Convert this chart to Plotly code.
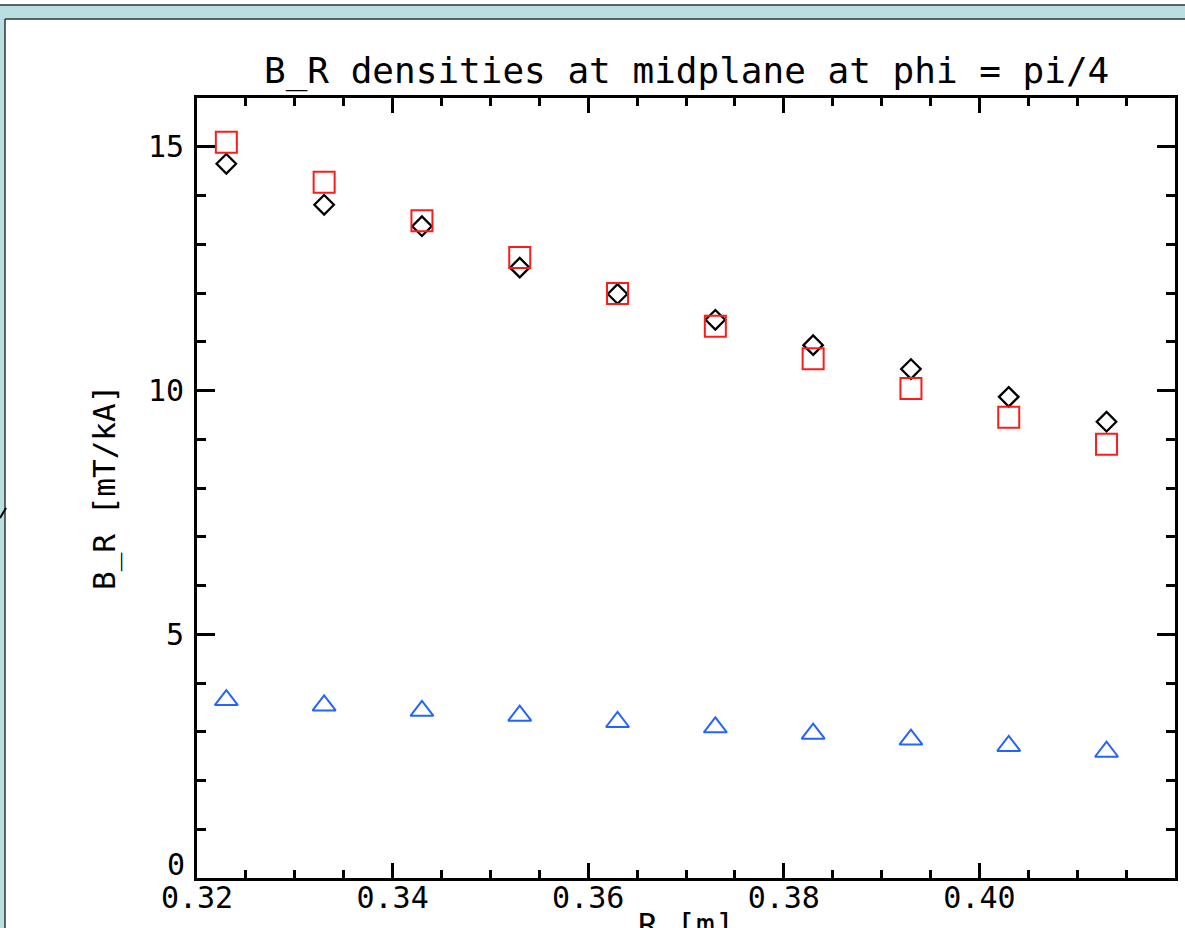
import plotly.graph_objects as go

# ---- data ----
R_m = [0.323, 0.333, 0.343, 0.353, 0.363, 0.373, 0.383, 0.393, 0.403, 0.413]
br_black = [14.65, 13.81, 13.37, 12.52, 11.98, 11.45, 10.93, 10.44, 9.87, 9.36]
br_red = [15.09, 14.27, 13.48, 12.73, 11.99, 11.32, 10.65, 10.04, 9.45, 8.90]
br_blue = [3.65, 3.54, 3.43, 3.33, 3.20, 3.09, 2.96, 2.84, 2.71, 2.59]

x_tickvals = [0.32, 0.34, 0.36, 0.38, 0.40]
x_ticktext = ["0.32", "0.34", "0.36", "0.38", "0.40"]
y_tickvals = [0, 5, 10, 15]
y_ticktext = ["", "5", "10", "15"]   # "0" is drawn raised, as in the original
y_zero_label = "0"

title_text = "B_R densities at midplane at phi = pi/4"
xtitle_text = "R [m]"
ytitle_text = "B_R [mT/kA]"

# ---- layout geometry (pixels) ----
WIDTH, HEIGHT = 1185, 928
L, R, T, B = 197, 1175, 98, 878
PW, PH = R - L, B - T


def px(x):
    return (x - L) / PW


def py(y):
    return (B - y) / PH


FONT = "DejaVu Sans Mono"
TEAL = "#b9dfe1"
DARK = "#333333"

fig = go.Figure()
fig.add_trace(go.Scatter(
    x=R_m, y=br_black, mode="markers", name="black",
    marker=dict(symbol="diamond-open", size=15, color="black",
                line=dict(color="black", width=2.3)),
    showlegend=False))
fig.add_trace(go.Scatter(
    x=R_m, y=br_red, mode="markers", name="red",
    marker=dict(symbol="square-open", size=21, color="#ff1a1a",
                line=dict(color="#ff1a1a", width=2)),
    showlegend=False))
fig.add_trace(go.Scatter(
    x=R_m, y=br_blue, mode="markers", name="blue",
    marker=dict(symbol="triangle-up-open", size=20, color="#2563ff",
                line=dict(color="#2563ff", width=2)),
    showlegend=False))

axis_common = dict(
    showline=True, linecolor="black", linewidth=3, mirror="ticks",
    ticks="inside", tickcolor="black", tickwidth=3,
    showgrid=False, zeroline=False,
    tickfont=dict(family=FONT, size=30, color="black"),
)

fig.update_xaxes(
    range=[0.32, 0.42], tickmode="array", tickvals=x_tickvals, ticktext=x_ticktext,
    ticklen=15, ticklabelstandoff=-9,
    minor=dict(ticks="inside", dtick=0.005, tick0=0.32, ticklen=8, tickwidth=3,
               tickcolor="black", showgrid=False),
    **axis_common)
fig.update_yaxes(
    range=[0, 16], tickmode="array", tickvals=y_tickvals, ticktext=y_ticktext,
    ticklen=18, ticklabelstandoff=4,
    minor=dict(ticks="inside", dtick=1, tick0=0, ticklen=9, tickwidth=3,
               tickcolor="black", showgrid=False),
    **axis_common)

shapes = [
    # top teal band
    dict(type="rect", xref="paper", yref="paper", x0=px(0), x1=px(WIDTH + 5),
         y0=py(19), y1=py(5), fillcolor=TEAL, line=dict(width=0), layer="below"),
    # left teal band
    dict(type="rect", xref="paper", yref="paper", x0=px(-5), x1=px(5),
         y0=py(HEIGHT + 5), y1=py(19), fillcolor=TEAL, line=dict(width=0), layer="below"),
    dict(type="line", xref="paper", yref="paper", x0=px(0), x1=px(WIDTH + 5),
         y0=py(5), y1=py(5), line=dict(color=DARK, width=1.5)),
    dict(type="line", xref="paper", yref="paper", x0=px(5), x1=px(WIDTH + 5),
         y0=py(19), y1=py(19), line=dict(color=DARK, width=1.5)),
    dict(type="line", xref="paper", yref="paper", x0=px(5), x1=px(5),
         y0=py(19), y1=py(HEIGHT + 5), line=dict(color=DARK, width=1.5)),
    dict(type="line", xref="paper", yref="paper", x0=px(0), x1=px(6),
         y0=py(518), y1=py(508), line=dict(color="black", width=2)),
]

annotations = [
    dict(text=title_text, xref="paper", yref="paper", x=0.5, y=py(85),
         xanchor="center", yanchor="bottom", yshift=-9, showarrow=False,
         font=dict(family=FONT, size=36, color="black")),
    dict(text=xtitle_text, xref="paper", yref="paper", x=0.5, y=py(910),
         xanchor="center", yanchor="top", yshift=6, showarrow=False,
         font=dict(family=FONT, size=32, color="black")),
    dict(text=ytitle_text, xref="paper", yref="paper", x=px(104), y=0.5,
         xanchor="center", yanchor="middle", textangle=-90, showarrow=False,
         font=dict(family=FONT, size=31, color="black")),
    dict(text=y_zero_label, xref="paper", yref="y", x=px(187), y=y_tickvals[0],
         xanchor="right", yanchor="middle", yshift=14, showarrow=False,
         font=dict(family=FONT, size=30, color="black")),
]

fig.update_layout(
    width=WIDTH, height=HEIGHT,
    margin=dict(l=L, r=WIDTH - R, t=T, b=HEIGHT - B, autoexpand=False),
    paper_bgcolor="white", plot_bgcolor="white",
    shapes=shapes, annotations=annotations,
    showlegend=False,
)

fig.write_html(
    "out.html",
    config={"displayModeBar": False},
    post_script="document.body.style.margin='0';document.body.style.overflow='hidden';",
)
